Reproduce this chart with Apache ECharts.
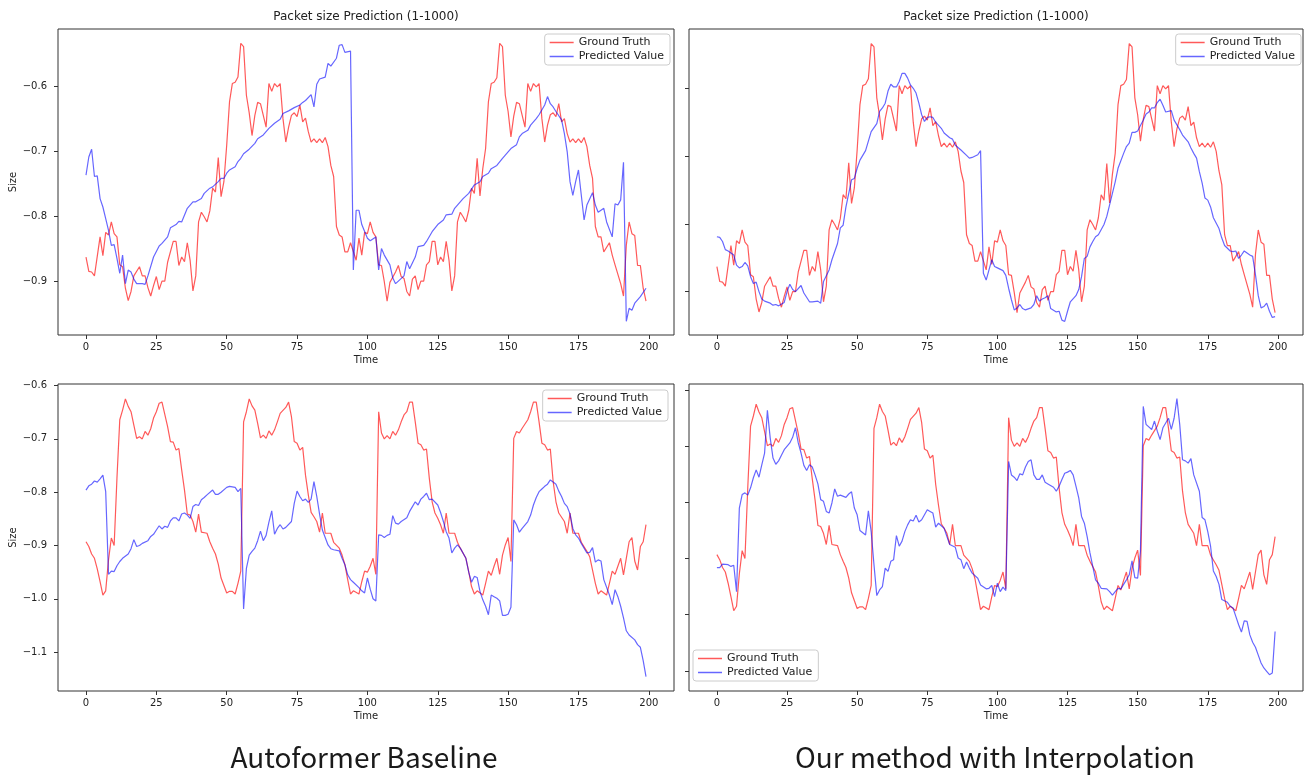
<!DOCTYPE html>
<html>
<head>
<meta charset="utf-8">
<title>Packet size Prediction</title>
<script src="https://cdn.jsdelivr.net/npm/echarts@6/dist/echarts.min.js"></script>
<style>
  html, body { margin: 0; padding: 0; background: #fff; }
  #main { width: 1307px; height: 775px; }
</style>
</head>
<body>
<div id="main"></div>
<script>
// x ticks / y ticks
var xTicks = [0, 25, 50, 75, 100, 125, 150, 175, 200];
var topYTicks = [-0.9, -0.8, -0.7, -0.6];
var bottomYTicks = [-1.1, -1.0, -0.9, -0.8, -0.7, -0.6];

// top row: ground truth (same in both panels)
var topTruthTime = [
  0,1,2,3,5,6,7,8,9,10,
  11,12,13,14,15,16,17,19,20,21,
  22,23,24,25,26,27,28,29,31,32,
  33,34,35,36,37,38,39,40,41,42,
  43,44,45,46,47,48,49,50,51,52,
  53,54,55,56,57,58,59,60,61,62,
  64,65,66,67,68,69,70,71,72,73,
  74,75,76,77,78,79,80,81,82,83,
  84,85,86,87,88,89,90,91,92,93,
  94,96,97,98,99,100,101,102,103,104,
  105,106,107,108,110,111,112,113,114,115,
  116,117,118,119,120,121,122,123,124,125,
  126,127,128,129,130,131,132,133,134,135,
  136,137,138,139,140,141,142,143,144,145,
  146,147,148,149,150,151,152,153,154,156,
  157,158,159,160,161,162,163,164,165,166,
  167,168,169,170,171,172,173,174,175,176,
  177,178,179,180,181,182,183,184,186,187,
  188,190,191,192,193,194,195,196,197,198,
  199];
var topTruthValue = [
  -0.863,-0.885,-0.886,-0.892,-0.832,-0.861,-0.825,-0.829,-0.809,-0.827,
  -0.832,-0.875,-0.878,-0.911,-0.930,-0.916,-0.892,-0.878,-0.892,-0.892,
  -0.910,-0.923,-0.907,-0.893,-0.913,-0.900,-0.900,-0.871,-0.839,-0.839,
  -0.876,-0.863,-0.870,-0.841,-0.868,-0.915,-0.892,-0.809,-0.794,-0.801,
  -0.809,-0.792,-0.757,-0.763,-0.710,-0.770,-0.747,-0.691,-0.624,-0.596,
  -0.594,-0.586,-0.534,-0.539,-0.614,-0.641,-0.676,-0.645,-0.625,-0.627,
  -0.663,-0.596,-0.608,-0.596,-0.601,-0.596,-0.650,-0.686,-0.663,-0.645,
  -0.641,-0.647,-0.629,-0.655,-0.649,-0.670,-0.686,-0.681,-0.687,-0.681,
  -0.687,-0.679,-0.693,-0.722,-0.739,-0.816,-0.829,-0.832,-0.855,-0.855,
  -0.841,-0.868,-0.834,-0.860,-0.825,-0.827,-0.809,-0.825,-0.832,-0.875,
  -0.876,-0.901,-0.931,-0.902,-0.886,-0.876,-0.893,-0.896,-0.916,-0.923,
  -0.897,-0.892,-0.913,-0.900,-0.900,-0.875,-0.870,-0.839,-0.839,-0.875,
  -0.863,-0.870,-0.839,-0.868,-0.915,-0.892,-0.809,-0.794,-0.801,-0.809,
  -0.791,-0.757,-0.765,-0.711,-0.769,-0.727,-0.696,-0.624,-0.596,-0.594,
  -0.587,-0.534,-0.539,-0.614,-0.639,-0.678,-0.646,-0.625,-0.627,-0.663,
  -0.596,-0.608,-0.596,-0.601,-0.596,-0.650,-0.686,-0.660,-0.644,-0.641,
  -0.647,-0.627,-0.655,-0.650,-0.673,-0.686,-0.681,-0.687,-0.681,-0.687,
  -0.679,-0.693,-0.722,-0.742,-0.816,-0.832,-0.832,-0.855,-0.841,-0.860,
  -0.875,-0.904,-0.923,-0.845,-0.809,-0.827,-0.830,-0.876,-0.876,-0.911,
  -0.931];

// top left: Autoformer prediction
var topAutoTime = [
  0,1,2,3,4,5,6,7,8,9,
  10,11,12,13,14,15,16,17,18,20,
  21,22,24,26,27,29,30,32,33,34,
  36,38,39,41,42,44,45,47,48,49,
  50,51,53,54,55,56,58,60,61,63,
  65,67,69,70,72,74,76,77,78,80,
  81,82,83,85,86,87,89,90,91,92,
  94,95,96,97,98,100,101,103,104,105,
  106,108,109,110,111,113,114,115,117,118,
  120,121,123,125,127,128,130,131,133,134,
  136,138,140,141,143,144,146,148,149,151,
  153,154,155,157,158,160,161,163,164,165,
  166,167,169,170,171,172,173,174,175,177,
  178,180,181,182,184,185,187,188,189,190,
  191,192,193,194,195,197,199];
var topAutoValue = [
  -0.737,-0.709,-0.697,-0.739,-0.738,-0.773,-0.786,-0.804,-0.822,-0.845,
  -0.844,-0.865,-0.888,-0.860,-0.904,-0.883,-0.886,-0.897,-0.904,-0.904,
  -0.905,-0.892,-0.863,-0.846,-0.842,-0.832,-0.818,-0.813,-0.808,-0.809,
  -0.788,-0.778,-0.778,-0.773,-0.765,-0.757,-0.755,-0.747,-0.742,-0.742,
  -0.734,-0.729,-0.724,-0.716,-0.711,-0.704,-0.697,-0.688,-0.681,-0.675,
  -0.665,-0.657,-0.651,-0.642,-0.638,-0.633,-0.629,-0.625,-0.622,-0.613,
  -0.632,-0.597,-0.589,-0.586,-0.565,-0.569,-0.557,-0.537,-0.536,-0.548,
  -0.546,-0.883,-0.791,-0.791,-0.813,-0.834,-0.838,-0.832,-0.883,-0.850,
  -0.860,-0.875,-0.895,-0.904,-0.900,-0.892,-0.870,-0.881,-0.863,-0.847,
  -0.845,-0.839,-0.824,-0.813,-0.806,-0.798,-0.797,-0.788,-0.778,-0.773,
  -0.765,-0.752,-0.747,-0.739,-0.734,-0.727,-0.722,-0.711,-0.706,-0.696,
  -0.690,-0.678,-0.673,-0.668,-0.660,-0.650,-0.644,-0.629,-0.616,-0.627,
  -0.632,-0.639,-0.652,-0.673,-0.701,-0.747,-0.768,-0.747,-0.729,-0.806,
  -0.783,-0.764,-0.783,-0.794,-0.788,-0.809,-0.832,-0.781,-0.783,-0.775,
  -0.717,-0.962,-0.942,-0.945,-0.934,-0.924,-0.911];

// top right: our method prediction
var topOursTime = [
  0,1,2,3,4,6,7,8,9,10,
  11,12,13,14,15,16,17,19,20,21,
  22,24,25,26,27,28,30,31,33,34,
  36,37,38,40,41,43,44,45,46,48,
  49,50,51,53,54,55,57,58,59,60,
  61,62,63,64,65,66,67,68,69,70,
  71,72,73,74,75,76,77,78,80,81,
  83,84,85,87,89,90,91,93,94,95,
  96,97,98,99,100,102,103,104,105,106,
  107,108,109,110,112,113,114,115,116,117,
  118,119,121,122,123,124,125,126,128,129,
  130,131,132,133,134,135,136,138,139,140,
  141,142,143,145,146,147,148,149,150,151,
  152,153,154,155,156,157,158,159,160,162,
  163,164,165,166,168,169,170,171,172,173,
  174,175,176,177,179,180,181,183,184,185,
  186,187,188,190,191,192,193,194,195,196,
  197,198,199];
var topOursValue = [
  -0.819,-0.820,-0.826,-0.838,-0.840,-0.846,-0.861,-0.865,-0.863,-0.857,
  -0.862,-0.878,-0.888,-0.886,-0.900,-0.911,-0.914,-0.917,-0.920,-0.919,
  -0.921,-0.916,-0.900,-0.889,-0.897,-0.900,-0.891,-0.902,-0.915,-0.915,
  -0.914,-0.917,-0.885,-0.868,-0.853,-0.829,-0.806,-0.802,-0.775,-0.735,
  -0.733,-0.718,-0.706,-0.692,-0.678,-0.664,-0.652,-0.634,-0.629,-0.622,
  -0.604,-0.594,-0.598,-0.598,-0.590,-0.578,-0.578,-0.585,-0.595,-0.600,
  -0.607,-0.622,-0.639,-0.649,-0.643,-0.642,-0.643,-0.650,-0.659,-0.666,
  -0.673,-0.675,-0.684,-0.691,-0.699,-0.703,-0.702,-0.698,-0.692,-0.873,
  -0.883,-0.868,-0.853,-0.863,-0.865,-0.869,-0.876,-0.895,-0.912,-0.927,
  -0.924,-0.919,-0.925,-0.927,-0.924,-0.919,-0.906,-0.914,-0.911,-0.909,
  -0.906,-0.925,-0.930,-0.929,-0.942,-0.944,-0.929,-0.915,-0.906,-0.897,
  -0.878,-0.851,-0.848,-0.834,-0.826,-0.819,-0.816,-0.801,-0.789,-0.772,
  -0.755,-0.738,-0.718,-0.696,-0.686,-0.681,-0.665,-0.665,-0.663,-0.655,
  -0.647,-0.638,-0.635,-0.629,-0.629,-0.621,-0.616,-0.625,-0.635,-0.633,
  -0.647,-0.654,-0.661,-0.669,-0.679,-0.688,-0.696,-0.703,-0.723,-0.740,
  -0.762,-0.765,-0.775,-0.791,-0.807,-0.821,-0.832,-0.840,-0.841,-0.840,
  -0.851,-0.846,-0.840,-0.846,-0.848,-0.875,-0.906,-0.924,-0.922,-0.917,
  -0.929,-0.938,-0.937];

// bottom row: ground truth (same in both panels)
var bottomTruthTime = [
  0,1,2,3,4,5,6,7,8,9,
  10,11,12,13,14,15,16,17,18,19,
  20,21,22,23,24,25,26,27,29,30,
  31,32,33,34,35,36,37,38,39,40,
  41,43,44,45,46,47,48,50,51,52,
  53,54,55,56,57,58,59,60,61,62,
  63,64,65,66,67,68,69,71,72,73,
  74,75,76,77,78,79,80,81,82,83,
  84,85,87,88,90,91,92,93,94,95,
  97,98,99,100,101,102,103,104,105,106,
  107,108,109,110,111,112,113,114,115,116,
  117,118,119,120,121,122,123,124,125,126,
  127,128,129,131,132,133,135,136,137,138,
  139,141,142,143,144,145,146,147,148,149,
  150,151,152,153,154,155,157,158,159,160,
  161,162,163,164,165,166,167,168,170,171,
  172,173,175,176,178,179,180,181,182,183,
  185,186,187,188,189,190,191,192,193,194,
  195,196,197,198,199];
var bottomTruthValue = [
  -0.893,-0.902,-0.916,-0.924,-0.944,-0.968,-0.993,-0.985,-0.927,-0.886,
  -0.900,-0.774,-0.664,-0.646,-0.625,-0.639,-0.649,-0.674,-0.699,-0.696,
  -0.700,-0.686,-0.693,-0.681,-0.661,-0.649,-0.633,-0.631,-0.677,-0.705,
  -0.706,-0.721,-0.718,-0.758,-0.796,-0.841,-0.843,-0.855,-0.875,-0.841,
  -0.875,-0.877,-0.893,-0.905,-0.916,-0.935,-0.961,-0.989,-0.986,-0.986,
  -0.991,-0.971,-0.948,-0.668,-0.649,-0.625,-0.638,-0.646,-0.671,-0.698,
  -0.693,-0.699,-0.685,-0.693,-0.683,-0.668,-0.652,-0.641,-0.631,-0.658,
  -0.705,-0.708,-0.721,-0.716,-0.768,-0.805,-0.838,-0.846,-0.855,-0.875,
  -0.839,-0.877,-0.877,-0.894,-0.905,-0.918,-0.936,-0.964,-0.991,-0.985,
  -0.991,-0.968,-0.948,-0.950,-0.939,-0.924,-0.954,-0.649,-0.689,-0.700,
  -0.694,-0.700,-0.686,-0.693,-0.683,-0.668,-0.655,-0.649,-0.631,-0.631,
  -0.668,-0.708,-0.711,-0.721,-0.719,-0.774,-0.818,-0.839,-0.849,-0.861,
  -0.877,-0.839,-0.877,-0.877,-0.894,-0.905,-0.924,-0.949,-0.977,-0.991,
  -0.985,-0.993,-0.971,-0.948,-0.956,-0.939,-0.924,-0.954,-0.918,-0.899,
  -0.885,-0.930,-0.699,-0.686,-0.689,-0.680,-0.664,-0.649,-0.631,-0.631,
  -0.668,-0.708,-0.711,-0.721,-0.719,-0.780,-0.818,-0.839,-0.855,-0.877,
  -0.839,-0.877,-0.877,-0.894,-0.911,-0.921,-0.946,-0.971,-0.991,-0.985,
  -0.993,-0.971,-0.948,-0.954,-0.939,-0.924,-0.955,-0.924,-0.893,-0.885,
  -0.929,-0.946,-0.902,-0.893,-0.861];

// bottom left: Autoformer prediction
var bottomAutoTime = [
  0,1,2,3,4,5,6,7,8,9,
  10,11,12,13,15,16,17,18,19,20,
  22,23,24,25,26,27,28,29,30,31,
  32,33,34,35,36,37,38,39,40,41,
  42,43,45,46,47,48,50,51,53,54,
  55,56,57,58,59,60,61,62,63,64,
  65,66,67,68,69,70,71,73,74,75,
  76,77,78,79,80,81,82,83,84,86,
  87,88,90,91,92,93,94,95,97,98,
  99,100,101,102,103,104,105,106,107,108,
  109,110,111,112,114,115,116,117,118,119,
  120,121,122,123,125,126,127,128,129,130,
  131,132,133,135,136,137,138,139,140,141,
  142,143,144,145,146,147,148,149,150,151,
  152,153,154,155,157,158,159,160,161,162,
  163,164,165,166,167,168,169,170,171,172,
  173,174,175,176,178,179,180,181,182,183,
  184,186,187,188,189,190,191,192,193,195,
  196,197,198,199];
var bottomAutoValue = [
  -0.796,-0.788,-0.785,-0.779,-0.781,-0.775,-0.768,-0.799,-0.954,-0.948,
  -0.949,-0.938,-0.930,-0.924,-0.916,-0.906,-0.889,-0.902,-0.900,-0.896,
  -0.891,-0.883,-0.879,-0.871,-0.863,-0.869,-0.864,-0.866,-0.854,-0.848,
  -0.848,-0.854,-0.841,-0.839,-0.843,-0.849,-0.827,-0.823,-0.825,-0.814,
  -0.810,-0.805,-0.796,-0.804,-0.804,-0.800,-0.791,-0.789,-0.791,-0.799,
  -0.793,-1.019,-0.943,-0.918,-0.911,-0.905,-0.891,-0.873,-0.891,-0.881,
  -0.856,-0.835,-0.879,-0.868,-0.861,-0.869,-0.866,-0.855,-0.821,-0.798,
  -0.808,-0.816,-0.813,-0.819,-0.813,-0.780,-0.808,-0.841,-0.871,-0.899,
  -0.906,-0.908,-0.910,-0.924,-0.936,-0.955,-0.964,-0.969,-0.979,-0.985,
  -0.989,-0.961,-0.982,-1.000,-1.004,-0.880,-0.881,-0.885,-0.881,-0.879,
  -0.844,-0.858,-0.860,-0.855,-0.848,-0.836,-0.827,-0.818,-0.824,-0.813,
  -0.808,-0.802,-0.814,-0.813,-0.824,-0.838,-0.855,-0.874,-0.886,-0.914,
  -0.905,-0.899,-0.905,-0.924,-0.950,-0.969,-0.958,-0.960,-0.986,-1.002,
  -1.014,-1.030,-0.993,-0.996,-0.999,-1.004,-1.031,-1.031,-1.029,-1.016,
  -0.852,-0.861,-0.875,-0.868,-0.855,-0.843,-0.824,-0.810,-0.799,-0.794,
  -0.789,-0.785,-0.777,-0.781,-0.785,-0.798,-0.808,-0.821,-0.827,-0.841,
  -0.868,-0.880,-0.886,-0.896,-0.914,-0.913,-0.904,-0.931,-0.927,-0.929,
  -0.964,-0.993,-1.011,-0.983,-0.996,-1.014,-1.036,-1.060,-1.068,-1.077,
  -1.086,-1.091,-1.116,-1.146];

// bottom right: our method prediction
var bottomOursTime = [
  0,1,2,4,5,6,7,8,9,10,
  11,12,13,14,15,16,17,18,19,20,
  21,22,23,24,26,27,28,29,30,31,
  32,33,34,35,36,37,38,39,40,41,
  42,43,44,46,47,48,49,50,51,53,
  54,55,56,57,58,59,60,61,62,63,
  64,65,66,67,68,69,70,71,72,73,
  75,76,77,78,79,81,82,83,85,86,
  87,88,89,90,91,93,94,96,97,98,
  99,100,101,102,103,104,105,106,107,108,
  109,110,111,112,113,114,115,116,117,118,
  120,121,122,123,124,125,126,127,128,129,
  130,131,132,133,134,135,136,137,139,140,
  141,142,143,144,145,146,147,148,149,150,
  151,152,153,155,156,157,158,159,161,162,
  163,164,165,166,167,168,169,170,172,173,
  174,175,176,177,178,179,180,182,183,184,
  185,186,187,188,189,190,191,192,193,194,
  195,196,197,198,199];
var bottomOursValue = [
  -0.916,-0.916,-0.910,-0.911,-0.914,-0.912,-0.959,-0.810,-0.786,-0.783,
  -0.787,-0.774,-0.756,-0.742,-0.755,-0.733,-0.712,-0.636,-0.685,-0.721,
  -0.732,-0.726,-0.716,-0.706,-0.694,-0.684,-0.667,-0.694,-0.712,-0.734,
  -0.743,-0.733,-0.737,-0.751,-0.767,-0.795,-0.798,-0.816,-0.819,-0.801,
  -0.776,-0.789,-0.787,-0.791,-0.785,-0.781,-0.810,-0.822,-0.850,-0.858,
  -0.815,-0.852,-0.911,-0.966,-0.956,-0.950,-0.917,-0.923,-0.905,-0.902,
  -0.859,-0.878,-0.869,-0.852,-0.840,-0.831,-0.833,-0.823,-0.835,-0.831,
  -0.813,-0.816,-0.819,-0.844,-0.837,-0.846,-0.861,-0.875,-0.880,-0.899,
  -0.902,-0.918,-0.906,-0.917,-0.926,-0.935,-0.947,-0.954,-0.953,-0.948,
  -0.968,-0.944,-0.959,-0.951,-0.957,-0.727,-0.751,-0.755,-0.761,-0.749,
  -0.751,-0.737,-0.727,-0.724,-0.751,-0.759,-0.759,-0.751,-0.764,-0.767,
  -0.773,-0.780,-0.771,-0.759,-0.748,-0.746,-0.743,-0.751,-0.771,-0.792,
  -0.825,-0.837,-0.861,-0.890,-0.914,-0.938,-0.944,-0.953,-0.954,-0.959,
  -0.965,-0.959,-0.953,-0.954,-0.946,-0.938,-0.929,-0.904,-0.934,-0.935,
  -0.887,-0.629,-0.661,-0.670,-0.655,-0.673,-0.688,-0.667,-0.650,-0.670,
  -0.650,-0.615,-0.661,-0.724,-0.726,-0.730,-0.722,-0.751,-0.780,-0.827,
  -0.831,-0.852,-0.878,-0.922,-0.932,-0.946,-0.973,-0.978,-0.985,-0.988,
  -1.003,-1.018,-1.031,-1.011,-1.012,-1.036,-1.049,-1.058,-1.072,-1.086,
  -1.095,-1.101,-1.107,-1.104,-1.030];

var RED = 'rgba(255,0,0,0.65)';
var BLUE = 'rgba(0,0,255,0.6)';
var FONT = 'DejaVu Sans';

function pairs(t, v) {
  return t.map(function (x, i) { return [x, v[i]]; });
}

function fmt(v) {
  return (v < 0 ? '\u2212' : '') + Math.abs(v).toFixed(1);
}

function xAxisFor(idx) {
  return {
    type: 'value', gridIndex: idx, min: -9.95, max: 208.95,
    name: 'Time', nameLocation: 'middle', nameGap: 20,
    nameTextStyle: { fontSize: 10, color: '#222', fontFamily: FONT },
    axisLine: { show: false, onZero: false },
    splitLine: { show: false },
    axisTick: { show: true, length: 4, customValues: xTicks, lineStyle: { color: '#333' } },
    axisLabel: { customValues: xTicks, fontSize: 10, color: '#222', fontFamily: FONT, margin: 7 }
  };
}

function yAxisFor(idx, min, max, ticks, labels) {
  return {
    type: 'value', gridIndex: idx, min: min, max: max,
    name: labels ? 'Size' : '', nameLocation: 'middle', nameGap: 40,
    nameTextStyle: { fontSize: 10, color: '#222', fontFamily: FONT },
    axisLine: { show: false, onZero: false },
    splitLine: { show: false },
    axisTick: { show: true, length: 4, customValues: ticks, lineStyle: { color: '#333' } },
    axisLabel: { show: labels, customValues: ticks, formatter: fmt, fontSize: 10, color: '#222', fontFamily: FONT, margin: 11 }
  };
}

function lineSeries(name, color, idx, data) {
  return {
    name: name, type: 'line', xAxisIndex: idx, yAxisIndex: idx,
    data: data, symbol: 'none', showSymbol: false,
    lineStyle: { color: color, width: 1.2 },
    itemStyle: { color: color },
    silent: true
  };
}

function legendAt(pos) {
  var l = {
    orient: 'vertical', data: ['Ground Truth', 'Predicted Value'],
    icon: 'rect', itemWidth: 24, itemHeight: 1.5, itemGap: 3,
    padding: [3, 6, 3, 5],
    backgroundColor: '#fff', borderColor: '#ccc', borderWidth: 1, borderRadius: 3,
    textStyle: { fontSize: 11, color: '#222', fontFamily: FONT }
  };
  for (var k in pos) l[k] = pos[k];
  return l;
}

var grids = [
  { left: 58, top: 29, width: 616, height: 306 },
  { left: 689, top: 29, width: 614, height: 306 },
  { left: 58, top: 384, width: 616, height: 307 },
  { left: 689, top: 384, width: 614, height: 307 }
].map(function (g) {
  g.show = true; g.borderColor = '#333'; g.borderWidth = 1; g.backgroundColor = 'transparent';
  return g;
});

var option = {
  backgroundColor: '#fff',
  animation: false,
  grid: grids,
  xAxis: [xAxisFor(0), xAxisFor(1), xAxisFor(2), xAxisFor(3)],
  yAxis: [
    yAxisFor(0, -0.983, -0.512, topYTicks, true),
    yAxisFor(1, -0.964, -0.5125, topYTicks, false),
    yAxisFor(2, -1.173, -0.597, bottomYTicks, true),
    yAxisFor(3, -1.136, -0.589, bottomYTicks, false)
  ],
  legend: [
    legendAt({ right: 637, top: 34 }),
    legendAt({ right: 6, top: 34 }),
    legendAt({ right: 639, top: 390 }),
    legendAt({ left: 693, top: 650 })
  ],
  graphic: [
    { type: 'text', x: 366, y: 17, style: { text: 'Packet size Prediction (1-1000)', fill: '#222', font: '12px "DejaVu Sans"', align: 'center', verticalAlign: 'middle' } },
    { type: 'text', x: 996, y: 17, style: { text: 'Packet size Prediction (1-1000)', fill: '#222', font: '12px "DejaVu Sans"', align: 'center', verticalAlign: 'middle' } },
    { type: 'text', x: 364, y: 757, style: { text: 'Autoformer Baseline', fill: '#1a1a1a', font: '28px "Noto Sans CJK SC"', align: 'center', verticalAlign: 'middle' } },
    { type: 'text', x: 995, y: 757, style: { text: 'Our method with Interpolation', fill: '#1a1a1a', font: '28px "Noto Sans CJK SC"', align: 'center', verticalAlign: 'middle' } }
  ],
  series: [
    lineSeries('Ground Truth', RED, 0, pairs(topTruthTime, topTruthValue)),
    lineSeries('Predicted Value', BLUE, 0, pairs(topAutoTime, topAutoValue)),
    lineSeries('Ground Truth', RED, 1, pairs(topTruthTime, topTruthValue)),
    lineSeries('Predicted Value', BLUE, 1, pairs(topOursTime, topOursValue)),
    lineSeries('Ground Truth', RED, 2, pairs(bottomTruthTime, bottomTruthValue)),
    lineSeries('Predicted Value', BLUE, 2, pairs(bottomAutoTime, bottomAutoValue)),
    lineSeries('Ground Truth', RED, 3, pairs(bottomTruthTime, bottomTruthValue)),
    lineSeries('Predicted Value', BLUE, 3, pairs(bottomOursTime, bottomOursValue))
  ]
};

var chart = echarts.init(document.getElementById('main'));
chart.setOption(option);
</script>
</body>
</html>
